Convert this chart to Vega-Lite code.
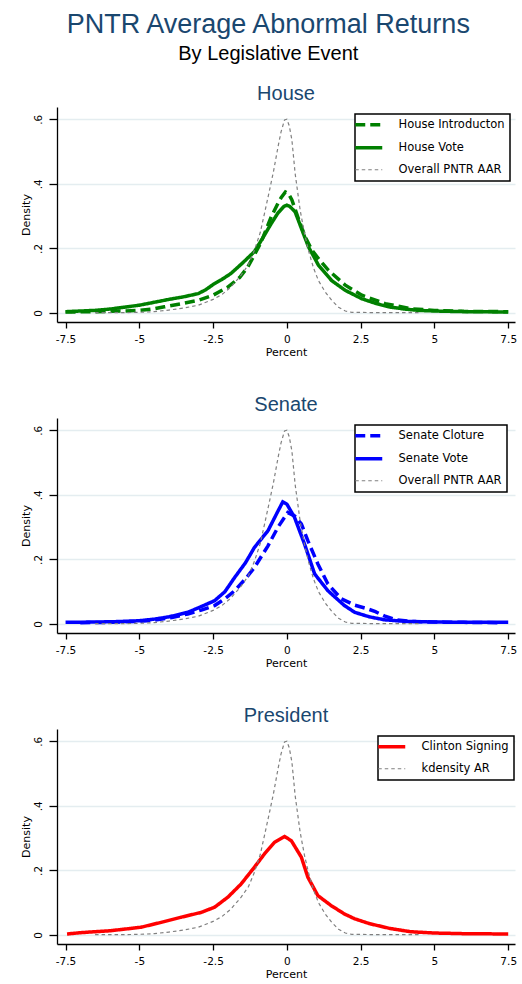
{
"$schema": "https://vega.github.io/schema/vega-lite/v6.json",
"background": "white",
"padding": {"left": 20, "top": 11, "right": 3, "bottom": 5},
"title": {"text": "PNTR Average Abnormal Returns", "subtitle": "By Legislative Event", "fontSize": 27, "subtitleFontSize": 20, "color": "#1a476f", "subtitleColor": "#000000", "font": "Liberation Sans", "subtitleFont": "Liberation Sans", "fontWeight": "normal", "subtitleFontWeight": "normal", "anchor": "middle", "frame": "bounds", "offset": 19, "subtitlePadding": 5},
"datasets": {
"d": [
{"panel":"House","series":"House Introducton","x":-7.5,"y":0.003},{"panel":"House","series":"House Introducton","x":-6.5,"y":0.004},{"panel":"House","series":"House Introducton","x":-5.5,"y":0.006},{"panel":"House","series":"House Introducton","x":-5,"y":0.008},{"panel":"House","series":"House Introducton","x":-4.5,"y":0.013},{"panel":"House","series":"House Introducton","x":-4.15,"y":0.019},{"panel":"House","series":"House Introducton","x":-3.5,"y":0.03},{"panel":"House","series":"House Introducton","x":-3,"y":0.039},{"panel":"House","series":"House Introducton","x":-2.5,"y":0.055},{"panel":"House","series":"House Introducton","x":-2,"y":0.08},{"panel":"House","series":"House Introducton","x":-1.6,"y":0.11},{"panel":"House","series":"House Introducton","x":-1.32,"y":0.143},{"panel":"House","series":"House Introducton","x":-1.1,"y":0.18},{"panel":"House","series":"House Introducton","x":-0.87,"y":0.22},{"panel":"House","series":"House Introducton","x":-0.53,"y":0.298},{"panel":"House","series":"House Introducton","x":-0.3,"y":0.34},{"panel":"House","series":"House Introducton","x":-0.19,"y":0.358},{"panel":"House","series":"House Introducton","x":-0.05,"y":0.375},{"panel":"House","series":"House Introducton","x":0.05,"y":0.37},{"panel":"House","series":"House Introducton","x":0.17,"y":0.35},{"panel":"House","series":"House Introducton","x":0.4,"y":0.29},{"panel":"House","series":"House Introducton","x":0.62,"y":0.236},{"panel":"House","series":"House Introducton","x":0.85,"y":0.194},{"panel":"House","series":"House Introducton","x":1.1,"y":0.165},{"panel":"House","series":"House Introducton","x":1.41,"y":0.132},{"panel":"House","series":"House Introducton","x":1.98,"y":0.086},{"panel":"House","series":"House Introducton","x":2.54,"y":0.055},{"panel":"House","series":"House Introducton","x":3.33,"y":0.029},{"panel":"House","series":"House Introducton","x":4.23,"y":0.013},{"panel":"House","series":"House Introducton","x":5,"y":0.008},{"panel":"House","series":"House Introducton","x":6,"y":0.005},{"panel":"House","series":"House Introducton","x":7.5,"y":0.004},
{"panel":"House","series":"House Vote","x":-7.5,"y":0.004},{"panel":"House","series":"House Vote","x":-7,"y":0.006},{"panel":"House","series":"House Vote","x":-6.5,"y":0.008},{"panel":"House","series":"House Vote","x":-6,"y":0.012},{"panel":"House","series":"House Vote","x":-5.5,"y":0.018},{"panel":"House","series":"House Vote","x":-5,"y":0.024},{"panel":"House","series":"House Vote","x":-4.5,"y":0.033},{"panel":"House","series":"House Vote","x":-4,"y":0.042},{"panel":"House","series":"House Vote","x":-3.5,"y":0.05},{"panel":"House","series":"House Vote","x":-3,"y":0.06},{"panel":"House","series":"House Vote","x":-2.75,"y":0.072},{"panel":"House","series":"House Vote","x":-2.5,"y":0.088},{"panel":"House","series":"House Vote","x":-2.2,"y":0.104},{"panel":"House","series":"House Vote","x":-1.9,"y":0.122},{"panel":"House","series":"House Vote","x":-1.5,"y":0.155},{"panel":"House","series":"House Vote","x":-1.1,"y":0.19},{"panel":"House","series":"House Vote","x":-0.8,"y":0.235},{"panel":"House","series":"House Vote","x":-0.53,"y":0.277},{"panel":"House","series":"House Vote","x":-0.3,"y":0.31},{"panel":"House","series":"House Vote","x":-0.1,"y":0.33},{"panel":"House","series":"House Vote","x":0,"y":0.334},{"panel":"House","series":"House Vote","x":0.1,"y":0.33},{"panel":"House","series":"House Vote","x":0.28,"y":0.313},{"panel":"House","series":"House Vote","x":0.5,"y":0.26},{"panel":"House","series":"House Vote","x":0.73,"y":0.205},{"panel":"House","series":"House Vote","x":1.07,"y":0.148},{"panel":"House","series":"House Vote","x":1.52,"y":0.1},{"panel":"House","series":"House Vote","x":1.98,"y":0.07},{"panel":"House","series":"House Vote","x":2.54,"y":0.044},{"panel":"House","series":"House Vote","x":3,"y":0.03},{"panel":"House","series":"House Vote","x":3.44,"y":0.019},{"panel":"House","series":"House Vote","x":4,"y":0.012},{"panel":"House","series":"House Vote","x":4.46,"y":0.008},{"panel":"House","series":"House Vote","x":5,"y":0.006},{"panel":"House","series":"House Vote","x":6,"y":0.004},{"panel":"House","series":"House Vote","x":7.5,"y":0.003},
{"panel":"Senate","series":"Senate Cloture","x":-7,"y":0.004},{"panel":"Senate","series":"Senate Cloture","x":-6,"y":0.005},{"panel":"Senate","series":"Senate Cloture","x":-5,"y":0.008},{"panel":"Senate","series":"Senate Cloture","x":-4.49,"y":0.012},{"panel":"Senate","series":"Senate Cloture","x":-3.9,"y":0.02},{"panel":"Senate","series":"Senate Cloture","x":-3.36,"y":0.031},{"panel":"Senate","series":"Senate Cloture","x":-2.9,"y":0.043},{"panel":"Senate","series":"Senate Cloture","x":-2.45,"y":0.057},{"panel":"Senate","series":"Senate Cloture","x":-2.1,"y":0.078},{"panel":"Senate","series":"Senate Cloture","x":-1.77,"y":0.103},{"panel":"Senate","series":"Senate Cloture","x":-1.4,"y":0.14},{"panel":"Senate","series":"Senate Cloture","x":-1.1,"y":0.175},{"panel":"Senate","series":"Senate Cloture","x":-0.64,"y":0.242},{"panel":"Senate","series":"Senate Cloture","x":-0.3,"y":0.3},{"panel":"Senate","series":"Senate Cloture","x":0.03,"y":0.345},{"panel":"Senate","series":"Senate Cloture","x":0.26,"y":0.335},{"panel":"Senate","series":"Senate Cloture","x":0.49,"y":0.31},{"panel":"Senate","series":"Senate Cloture","x":0.71,"y":0.258},{"panel":"Senate","series":"Senate Cloture","x":1.05,"y":0.186},{"panel":"Senate","series":"Senate Cloture","x":1.39,"y":0.124},{"panel":"Senate","series":"Senate Cloture","x":1.84,"y":0.078},{"panel":"Senate","series":"Senate Cloture","x":2.3,"y":0.058},{"panel":"Senate","series":"Senate Cloture","x":2.7,"y":0.048},{"panel":"Senate","series":"Senate Cloture","x":3,"y":0.038},{"panel":"Senate","series":"Senate Cloture","x":3.3,"y":0.025},{"panel":"Senate","series":"Senate Cloture","x":3.7,"y":0.013},{"panel":"Senate","series":"Senate Cloture","x":4.2,"y":0.008},{"panel":"Senate","series":"Senate Cloture","x":5,"y":0.006},{"panel":"Senate","series":"Senate Cloture","x":6,"y":0.005},{"panel":"Senate","series":"Senate Cloture","x":7.3,"y":0.004},
{"panel":"Senate","series":"Senate Vote","x":-7.5,"y":0.005},{"panel":"Senate","series":"Senate Vote","x":-6.5,"y":0.006},{"panel":"Senate","series":"Senate Vote","x":-5.84,"y":0.007},{"panel":"Senate","series":"Senate Vote","x":-5,"y":0.01},{"panel":"Senate","series":"Senate Vote","x":-4.49,"y":0.015},{"panel":"Senate","series":"Senate Vote","x":-4,"y":0.022},{"panel":"Senate","series":"Senate Vote","x":-3.36,"y":0.036},{"panel":"Senate","series":"Senate Vote","x":-3,"y":0.05},{"panel":"Senate","series":"Senate Vote","x":-2.45,"y":0.072},{"panel":"Senate","series":"Senate Vote","x":-2.1,"y":0.1},{"panel":"Senate","series":"Senate Vote","x":-1.77,"y":0.144},{"panel":"Senate","series":"Senate Vote","x":-1.4,"y":0.19},{"panel":"Senate","series":"Senate Vote","x":-1.1,"y":0.237},{"panel":"Senate","series":"Senate Vote","x":-0.64,"y":0.289},{"panel":"Senate","series":"Senate Vote","x":-0.3,"y":0.35},{"panel":"Senate","series":"Senate Vote","x":-0.14,"y":0.378},{"panel":"Senate","series":"Senate Vote","x":0,"y":0.371},{"panel":"Senate","series":"Senate Vote","x":0.26,"y":0.33},{"panel":"Senate","series":"Senate Vote","x":0.6,"y":0.247},{"panel":"Senate","series":"Senate Vote","x":0.94,"y":0.155},{"panel":"Senate","series":"Senate Vote","x":1.39,"y":0.103},{"panel":"Senate","series":"Senate Vote","x":1.95,"y":0.057},{"panel":"Senate","series":"Senate Vote","x":2.3,"y":0.036},{"panel":"Senate","series":"Senate Vote","x":2.8,"y":0.022},{"panel":"Senate","series":"Senate Vote","x":3.3,"y":0.013},{"panel":"Senate","series":"Senate Vote","x":4,"y":0.008},{"panel":"Senate","series":"Senate Vote","x":5,"y":0.006},{"panel":"Senate","series":"Senate Vote","x":6,"y":0.005},{"panel":"Senate","series":"Senate Vote","x":7.5,"y":0.005},
{"panel":"President","series":"Clinton Signing","x":-7.45,"y":0.003},{"panel":"President","series":"Clinton Signing","x":-7,"y":0.007},{"panel":"President","series":"Clinton Signing","x":-6.52,"y":0.01},{"panel":"President","series":"Clinton Signing","x":-6,"y":0.013},{"panel":"President","series":"Clinton Signing","x":-5.6,"y":0.017},{"panel":"President","series":"Clinton Signing","x":-4.94,"y":0.024},{"panel":"President","series":"Clinton Signing","x":-4.26,"y":0.039},{"panel":"President","series":"Clinton Signing","x":-3.58,"y":0.055},{"panel":"President","series":"Clinton Signing","x":-2.9,"y":0.07},{"panel":"President","series":"Clinton Signing","x":-2.45,"y":0.086},{"panel":"President","series":"Clinton Signing","x":-2,"y":0.117},{"panel":"President","series":"Clinton Signing","x":-1.55,"y":0.158},{"panel":"President","series":"Clinton Signing","x":-1.1,"y":0.21},{"panel":"President","series":"Clinton Signing","x":-0.76,"y":0.251},{"panel":"President","series":"Clinton Signing","x":-0.42,"y":0.287},{"panel":"President","series":"Clinton Signing","x":-0.08,"y":0.305},{"panel":"President","series":"Clinton Signing","x":0.15,"y":0.292},{"panel":"President","series":"Clinton Signing","x":0.49,"y":0.241},{"panel":"President","series":"Clinton Signing","x":0.71,"y":0.179},{"panel":"President","series":"Clinton Signing","x":1.05,"y":0.122},{"panel":"President","series":"Clinton Signing","x":1.5,"y":0.091},{"panel":"President","series":"Clinton Signing","x":1.95,"y":0.065},{"panel":"President","series":"Clinton Signing","x":2.3,"y":0.05},{"panel":"President","series":"Clinton Signing","x":2.8,"y":0.035},{"panel":"President","series":"Clinton Signing","x":3.5,"y":0.02},{"panel":"President","series":"Clinton Signing","x":4.2,"y":0.01},{"panel":"President","series":"Clinton Signing","x":5,"y":0.006},{"panel":"President","series":"Clinton Signing","x":6,"y":0.004},{"panel":"President","series":"Clinton Signing","x":7.5,"y":0.003},
{"panel":"House","series":"Overall PNTR AAR","x":-6.5,"y":0.001},{"panel":"House","series":"Overall PNTR AAR","x":-5.5,"y":0.001},{"panel":"House","series":"Overall PNTR AAR","x":-5,"y":0.002},{"panel":"House","series":"Overall PNTR AAR","x":-4.5,"y":0.004},{"panel":"House","series":"Overall PNTR AAR","x":-4,"y":0.009},{"panel":"House","series":"Overall PNTR AAR","x":-3.5,"y":0.015},{"panel":"House","series":"Overall PNTR AAR","x":-3,"y":0.024},{"panel":"House","series":"Overall PNTR AAR","x":-2.5,"y":0.042},{"panel":"House","series":"Overall PNTR AAR","x":-2.2,"y":0.057},{"panel":"House","series":"Overall PNTR AAR","x":-1.9,"y":0.08},{"panel":"House","series":"Overall PNTR AAR","x":-1.55,"y":0.117},{"panel":"House","series":"Overall PNTR AAR","x":-1.3,"y":0.15},{"panel":"House","series":"Overall PNTR AAR","x":-1.1,"y":0.194},{"panel":"House","series":"Overall PNTR AAR","x":-0.9,"y":0.25},{"panel":"House","series":"Overall PNTR AAR","x":-0.76,"y":0.308},{"panel":"House","series":"Overall PNTR AAR","x":-0.6,"y":0.375},{"panel":"House","series":"Overall PNTR AAR","x":-0.45,"y":0.44},{"panel":"House","series":"Overall PNTR AAR","x":-0.3,"y":0.515},{"panel":"House","series":"Overall PNTR AAR","x":-0.2,"y":0.56},{"panel":"House","series":"Overall PNTR AAR","x":-0.08,"y":0.598},{"panel":"House","series":"Overall PNTR AAR","x":0,"y":0.6},{"panel":"House","series":"Overall PNTR AAR","x":0.08,"y":0.58},{"panel":"House","series":"Overall PNTR AAR","x":0.17,"y":0.536},{"panel":"House","series":"Overall PNTR AAR","x":0.28,"y":0.432},{"panel":"House","series":"Overall PNTR AAR","x":0.45,"y":0.318},{"panel":"House","series":"Overall PNTR AAR","x":0.6,"y":0.245},{"panel":"House","series":"Overall PNTR AAR","x":0.73,"y":0.194},{"panel":"House","series":"Overall PNTR AAR","x":0.9,"y":0.14},{"panel":"House","series":"Overall PNTR AAR","x":1.07,"y":0.1},{"panel":"House","series":"Overall PNTR AAR","x":1.3,"y":0.065},{"panel":"House","series":"Overall PNTR AAR","x":1.52,"y":0.039},{"panel":"House","series":"Overall PNTR AAR","x":1.75,"y":0.018},{"panel":"House","series":"Overall PNTR AAR","x":1.98,"y":0.006},{"panel":"House","series":"Overall PNTR AAR","x":2.2,"y":0.002},{"panel":"House","series":"Overall PNTR AAR","x":3,"y":0.001},{"panel":"House","series":"Overall PNTR AAR","x":4.5,"y":0.001},
{"panel":"Senate","series":"Overall PNTR AAR","x":-6.5,"y":0.001},{"panel":"Senate","series":"Overall PNTR AAR","x":-5.5,"y":0.001},{"panel":"Senate","series":"Overall PNTR AAR","x":-5,"y":0.002},{"panel":"Senate","series":"Overall PNTR AAR","x":-4.5,"y":0.004},{"panel":"Senate","series":"Overall PNTR AAR","x":-4,"y":0.009},{"panel":"Senate","series":"Overall PNTR AAR","x":-3.5,"y":0.015},{"panel":"Senate","series":"Overall PNTR AAR","x":-3,"y":0.024},{"panel":"Senate","series":"Overall PNTR AAR","x":-2.5,"y":0.042},{"panel":"Senate","series":"Overall PNTR AAR","x":-2.2,"y":0.057},{"panel":"Senate","series":"Overall PNTR AAR","x":-1.9,"y":0.08},{"panel":"Senate","series":"Overall PNTR AAR","x":-1.55,"y":0.117},{"panel":"Senate","series":"Overall PNTR AAR","x":-1.3,"y":0.15},{"panel":"Senate","series":"Overall PNTR AAR","x":-1.1,"y":0.194},{"panel":"Senate","series":"Overall PNTR AAR","x":-0.9,"y":0.25},{"panel":"Senate","series":"Overall PNTR AAR","x":-0.76,"y":0.308},{"panel":"Senate","series":"Overall PNTR AAR","x":-0.6,"y":0.375},{"panel":"Senate","series":"Overall PNTR AAR","x":-0.45,"y":0.44},{"panel":"Senate","series":"Overall PNTR AAR","x":-0.3,"y":0.515},{"panel":"Senate","series":"Overall PNTR AAR","x":-0.2,"y":0.56},{"panel":"Senate","series":"Overall PNTR AAR","x":-0.08,"y":0.598},{"panel":"Senate","series":"Overall PNTR AAR","x":0,"y":0.6},{"panel":"Senate","series":"Overall PNTR AAR","x":0.08,"y":0.58},{"panel":"Senate","series":"Overall PNTR AAR","x":0.17,"y":0.536},{"panel":"Senate","series":"Overall PNTR AAR","x":0.28,"y":0.432},{"panel":"Senate","series":"Overall PNTR AAR","x":0.45,"y":0.318},{"panel":"Senate","series":"Overall PNTR AAR","x":0.6,"y":0.245},{"panel":"Senate","series":"Overall PNTR AAR","x":0.73,"y":0.194},{"panel":"Senate","series":"Overall PNTR AAR","x":0.9,"y":0.14},{"panel":"Senate","series":"Overall PNTR AAR","x":1.07,"y":0.1},{"panel":"Senate","series":"Overall PNTR AAR","x":1.3,"y":0.065},{"panel":"Senate","series":"Overall PNTR AAR","x":1.52,"y":0.039},{"panel":"Senate","series":"Overall PNTR AAR","x":1.75,"y":0.018},{"panel":"Senate","series":"Overall PNTR AAR","x":1.98,"y":0.006},{"panel":"Senate","series":"Overall PNTR AAR","x":2.2,"y":0.002},{"panel":"Senate","series":"Overall PNTR AAR","x":3,"y":0.001},{"panel":"Senate","series":"Overall PNTR AAR","x":4.5,"y":0.001},
{"panel":"President","series":"kdensity AR","x":-6.5,"y":0.001},{"panel":"President","series":"kdensity AR","x":-5.5,"y":0.001},{"panel":"President","series":"kdensity AR","x":-5,"y":0.002},{"panel":"President","series":"kdensity AR","x":-4.5,"y":0.004},{"panel":"President","series":"kdensity AR","x":-4,"y":0.009},{"panel":"President","series":"kdensity AR","x":-3.5,"y":0.015},{"panel":"President","series":"kdensity AR","x":-3,"y":0.024},{"panel":"President","series":"kdensity AR","x":-2.5,"y":0.042},{"panel":"President","series":"kdensity AR","x":-2.2,"y":0.057},{"panel":"President","series":"kdensity AR","x":-1.9,"y":0.08},{"panel":"President","series":"kdensity AR","x":-1.55,"y":0.117},{"panel":"President","series":"kdensity AR","x":-1.3,"y":0.15},{"panel":"President","series":"kdensity AR","x":-1.1,"y":0.194},{"panel":"President","series":"kdensity AR","x":-0.9,"y":0.25},{"panel":"President","series":"kdensity AR","x":-0.76,"y":0.308},{"panel":"President","series":"kdensity AR","x":-0.6,"y":0.375},{"panel":"President","series":"kdensity AR","x":-0.45,"y":0.44},{"panel":"President","series":"kdensity AR","x":-0.3,"y":0.515},{"panel":"President","series":"kdensity AR","x":-0.2,"y":0.56},{"panel":"President","series":"kdensity AR","x":-0.08,"y":0.598},{"panel":"President","series":"kdensity AR","x":0,"y":0.6},{"panel":"President","series":"kdensity AR","x":0.08,"y":0.58},{"panel":"President","series":"kdensity AR","x":0.17,"y":0.536},{"panel":"President","series":"kdensity AR","x":0.28,"y":0.432},{"panel":"President","series":"kdensity AR","x":0.45,"y":0.318},{"panel":"President","series":"kdensity AR","x":0.6,"y":0.245},{"panel":"President","series":"kdensity AR","x":0.73,"y":0.194},{"panel":"President","series":"kdensity AR","x":0.9,"y":0.14},{"panel":"President","series":"kdensity AR","x":1.07,"y":0.1},{"panel":"President","series":"kdensity AR","x":1.3,"y":0.065},{"panel":"President","series":"kdensity AR","x":1.52,"y":0.039},{"panel":"President","series":"kdensity AR","x":1.75,"y":0.018},{"panel":"President","series":"kdensity AR","x":1.98,"y":0.006},{"panel":"President","series":"kdensity AR","x":2.2,"y":0.002},{"panel":"President","series":"kdensity AR","x":3,"y":0.001},{"panel":"President","series":"kdensity AR","x":4.5,"y":0.001}
]
},
"spacing": 37,
"vconcat": [
{
"title": {"text": "House", "fontSize": 20, "color": "#1a476f", "font": "Liberation Sans", "fontWeight": "normal", "frame": "group", "anchor": "middle", "offset": 3},
"width": 458, "height": 215,
"data": {"name": "d"},
"transform": [{"filter": "datum.panel === 'House'"}],
"mark": {"type": "line", "clip": true},
"encoding": {
"x": {"field": "x", "type": "quantitative", "scale": {"domain": [-7.79, 7.73], "nice": false, "zero": false}, "axis": {"title": "Percent", "values": [-7.5, -5, -2.5, 0, 2.5, 5, 7.5], "labelExpr": "toString(datum.value)", "grid": false, "tickSize": 6, "labelPadding": 6, "titlePadding": 2, "labelFlush": false}},
"y": {"field": "y", "type": "quantitative", "scale": {"domain": [-0.028, 0.638], "nice": false, "zero": false}, "axis": {"title": "Density", "values": [0, 0.2, 0.4, 0.6], "labelExpr": "datum.value == 0 ? '0' : '.' + round(datum.value * 10)", "grid": true, "gridColor": "#e4edf0", "gridWidth": 1.5, "tickSize": 8, "labelAngle": 270, "labelAlign": "center", "labelBaseline": "bottom", "labelPadding": 6, "titlePadding": 2}},
"color": {"field": "series", "type": "nominal", "scale": {"domain": ["House Introducton", "House Vote", "Overall PNTR AAR"], "range": ["#008000", "#008000", "#808080"]}, "legend": {"title": null, "orient": "none", "legendX": 298, "legendY": 7, "encode": {"symbols": {"update": {"strokeWidth": {"signal": "datum.value === 'Overall PNTR AAR' ? 1.2 : 3.5"}}}}}},
"strokeDash": {"field": "series", "type": "nominal", "scale": {"domain": ["House Introducton", "House Vote", "Overall PNTR AAR"], "range": [[10, 5], [1, 0], [3.5, 3]]}, "legend": {"title": null, "orient": "none", "legendX": 298, "legendY": 7, "encode": {"symbols": {"update": {"strokeWidth": {"signal": "datum.value === 'Overall PNTR AAR' ? 1.2 : 3.5"}}}}}},
"strokeWidth": {"condition": {"test": "datum.series === 'Overall PNTR AAR'", "value": 1.2}, "value": 3.5}
}
},
{
"title": {"text": "Senate", "fontSize": 20, "color": "#1a476f", "font": "Liberation Sans", "fontWeight": "normal", "frame": "group", "anchor": "middle", "offset": 3},
"width": 458, "height": 215,
"data": {"name": "d"},
"transform": [{"filter": "datum.panel === 'Senate'"}],
"mark": {"type": "line", "clip": true},
"encoding": {
"x": {"field": "x", "type": "quantitative", "scale": {"domain": [-7.79, 7.73], "nice": false, "zero": false}, "axis": {"title": "Percent", "values": [-7.5, -5, -2.5, 0, 2.5, 5, 7.5], "labelExpr": "toString(datum.value)", "grid": false, "tickSize": 6, "labelPadding": 6, "titlePadding": 2, "labelFlush": false}},
"y": {"field": "y", "type": "quantitative", "scale": {"domain": [-0.028, 0.638], "nice": false, "zero": false}, "axis": {"title": "Density", "values": [0, 0.2, 0.4, 0.6], "labelExpr": "datum.value == 0 ? '0' : '.' + round(datum.value * 10)", "grid": true, "gridColor": "#e4edf0", "gridWidth": 1.5, "tickSize": 8, "labelAngle": 270, "labelAlign": "center", "labelBaseline": "bottom", "labelPadding": 6, "titlePadding": 2}},
"color": {"field": "series", "type": "nominal", "scale": {"domain": ["Senate Cloture", "Senate Vote", "Overall PNTR AAR"], "range": ["#0000ff", "#0000ff", "#808080"]}, "legend": {"title": null, "orient": "none", "legendX": 298, "legendY": 7, "encode": {"symbols": {"update": {"strokeWidth": {"signal": "datum.value === 'Overall PNTR AAR' ? 1.2 : 3.5"}}}}}},
"strokeDash": {"field": "series", "type": "nominal", "scale": {"domain": ["Senate Cloture", "Senate Vote", "Overall PNTR AAR"], "range": [[10, 5], [1, 0], [3.5, 3]]}, "legend": {"title": null, "orient": "none", "legendX": 298, "legendY": 7, "encode": {"symbols": {"update": {"strokeWidth": {"signal": "datum.value === 'Overall PNTR AAR' ? 1.2 : 3.5"}}}}}},
"strokeWidth": {"condition": {"test": "datum.series === 'Overall PNTR AAR'", "value": 1.2}, "value": 3.5}
}
},
{
"title": {"text": "President", "fontSize": 20, "color": "#1a476f", "font": "Liberation Sans", "fontWeight": "normal", "frame": "group", "anchor": "middle", "offset": 3},
"width": 458, "height": 215,
"data": {"name": "d"},
"transform": [{"filter": "datum.panel === 'President'"}],
"mark": {"type": "line", "clip": true},
"encoding": {
"x": {"field": "x", "type": "quantitative", "scale": {"domain": [-7.79, 7.73], "nice": false, "zero": false}, "axis": {"title": "Percent", "values": [-7.5, -5, -2.5, 0, 2.5, 5, 7.5], "labelExpr": "toString(datum.value)", "grid": false, "tickSize": 6, "labelPadding": 6, "titlePadding": 2, "labelFlush": false}},
"y": {"field": "y", "type": "quantitative", "scale": {"domain": [-0.028, 0.638], "nice": false, "zero": false}, "axis": {"title": "Density", "values": [0, 0.2, 0.4, 0.6], "labelExpr": "datum.value == 0 ? '0' : '.' + round(datum.value * 10)", "grid": true, "gridColor": "#e4edf0", "gridWidth": 1.5, "tickSize": 8, "labelAngle": 270, "labelAlign": "center", "labelBaseline": "bottom", "labelPadding": 6, "titlePadding": 2}},
"color": {"field": "series", "type": "nominal", "scale": {"domain": ["Clinton Signing", "kdensity AR"], "range": ["#ff0000", "#808080"]}, "legend": {"title": null, "orient": "none", "legendX": 321, "legendY": 7, "encode": {"symbols": {"update": {"strokeWidth": {"signal": "datum.value === 'kdensity AR' ? 1.2 : 3.5"}}}}}},
"strokeDash": {"field": "series", "type": "nominal", "scale": {"domain": ["Clinton Signing", "kdensity AR"], "range": [[1, 0], [3.5, 3]]}, "legend": {"title": null, "orient": "none", "legendX": 321, "legendY": 7, "encode": {"symbols": {"update": {"strokeWidth": {"signal": "datum.value === 'kdensity AR' ? 1.2 : 3.5"}}}}}},
"strokeWidth": {"condition": {"test": "datum.series === 'kdensity AR'", "value": 1.2}, "value": 3.5}
}
}
],
"resolve": {"scale": {"color": "independent", "strokeDash": "independent"}, "legend": {"color": "independent", "strokeDash": "independent"}},
"config": {
"view": {"stroke": null},
"font": "DejaVu Sans",
"axis": {"domainColor": "#000000", "domainWidth": 1.3, "tickColor": "#000000", "tickWidth": 1.3, "labelColor": "#000000", "labelFont": "DejaVu Sans", "labelFontSize": 10.5, "titleFont": "DejaVu Sans", "titleFontSize": 11, "titleFontWeight": "normal", "titleColor": "#000000"},
"legend": {"strokeColor": "#000000", "strokeWidth": 1.5, "fillColor": "#ffffff", "padding": 5, "symbolType": "stroke", "symbolSize": 729, "symbolStrokeWidth": 3.5, "symbolOffset": 3, "labelFont": "DejaVu Sans", "labelFontSize": 11.5, "labelColor": "#000000", "labelOffset": 24, "labelExpr": "datum.label + '   '", "rowPadding": 8, "cornerRadius": 0}
}
}
